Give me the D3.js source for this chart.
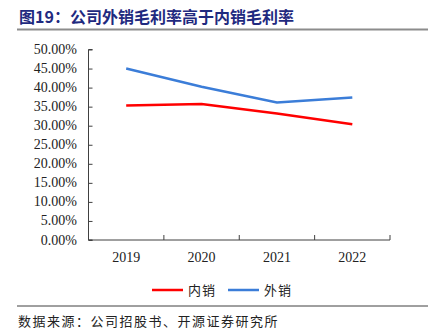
<!DOCTYPE html>
<html>
<head>
<meta charset="utf-8">
<script src="https://cdn.jsdelivr.net/npm/d3@7"></script>
<style>
  body { margin: 0; background: #fff; }
  svg { display: block; }
  .num { font-family: "Liberation Serif", "DejaVu Serif", serif; }
  .cjk { font-family: "Noto Sans CJK SC", sans-serif; }
</style>
</head>
<body>
<svg></svg>
<script>
// ===== Données : marge brute ventes intérieures / export =====
const years = ["2019", "2020", "2021", "2022"];
const domestic = [35.3, 35.7, 33.2, 30.4];   // 内销
const overseas = [45.0, 40.2, 36.1, 37.4];   // 外销
const yTicks = [0, 5, 10, 15, 20, 25, 30, 35, 40, 45, 50];
const seriesNames = ["内销", "外销"];
const seriesColors = ["#ff0000", "#3b7dd8"];

const width = 433, height = 334;
const svg = d3.select("svg").attr("width", width).attr("height", height);

// Titre + filet
svg.append("text")
  .attr("class", "cjk")
  .attr("x", 19).attr("y", 23)
  .attr("font-weight", "bold")
  .attr("font-size", 16)
  .attr("fill", "#1f2a80")
  .text("图19：公司外销毛利率高于内销毛利率");

svg.append("line")
  .attr("x1", 17).attr("x2", 428).attr("y1", 29.5).attr("y2", 29.5)
  .attr("stroke", "#8c8c8c").attr("stroke-width", 2);

// Échelles
const x = d3.scaleBand().domain(years).range([88.5, 390]);
const y = d3.scaleLinear().domain([0, 50]).range([240, 49.5]);

// Axe Y
const yAxis = svg.append("g")
  .attr("transform", "translate(88.5,0)")
  .call(d3.axisRight(y).tickValues(yTicks).tickSize(4).tickFormat(""));
yAxis.select(".domain").attr("d", "M4,49.5H0V240H4").attr("stroke", "#404040");
yAxis.selectAll(".tick line").attr("stroke", "#404040");

svg.append("g").selectAll("text")
  .data(yTicks).join("text")
  .attr("class", "num")
  .attr("x", 77).attr("y", d => y(d) + 4.5)
  .attr("text-anchor", "end")
  .attr("font-size", 14)
  .attr("fill", "#222")
  .text(d => d.toFixed(2) + "%");

// Axe X
const xAxis = svg.append("g")
  .attr("transform", "translate(0,240)");
xAxis.append("line")
  .attr("x1", 88.5).attr("x2", 390).attr("stroke", "#404040");
xAxis.selectAll(".tk")
  .data(years.map(d => x(d) + x.bandwidth())).join("line")
  .attr("x1", d => d).attr("x2", d => d)
  .attr("y1", 0).attr("y2", -5)
  .attr("stroke", "#404040");
xAxis.selectAll("text")
  .data(years).join("text")
  .attr("class", "num")
  .attr("x", d => x(d) + x.bandwidth() / 2)
  .attr("y", 22)
  .attr("text-anchor", "middle")
  .attr("font-size", 14)
  .attr("fill", "#222")
  .text(d => d);

// Courbes
const line = d3.line()
  .x((d, i) => x(years[i]) + x.bandwidth() / 2)
  .y(d => y(d));

[domestic, overseas].forEach((s, i) => {
  svg.append("path")
    .datum(s)
    .attr("d", line)
    .attr("fill", "none")
    .attr("stroke", seriesColors[i])
    .attr("stroke-width", 2.5);
});

// Légende
const legendX = [152, 228];
seriesNames.forEach((name, i) => {
  svg.append("line")
    .attr("x1", legendX[i]).attr("x2", legendX[i] + 31)
    .attr("y1", 290).attr("y2", 290)
    .attr("stroke", seriesColors[i]).attr("stroke-width", 2.5);
  svg.append("text")
    .attr("class", "cjk")
    .attr("x", legendX[i] + 36).attr("y", 295)
    .attr("font-size", 13)
    .attr("letter-spacing", 1)
    .attr("fill", "#222")
    .text(name);
});

// Source
svg.append("line")
  .attr("x1", 17).attr("x2", 428).attr("y1", 306).attr("y2", 306)
  .attr("stroke", "#404040").attr("stroke-width", 1);

svg.append("text")
  .attr("class", "cjk")
  .attr("x", 18).attr("y", 326)
  .attr("font-size", 13)
  .attr("letter-spacing", 1.5)
  .attr("fill", "#222")
  .text("数据来源：公司招股书、开源证券研究所");
</script>
</body>
</html>
